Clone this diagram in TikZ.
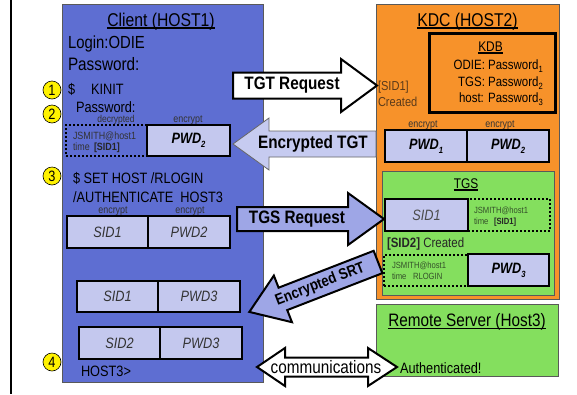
\documentclass[tikz,border=0pt]{standalone}
\usepackage{fontspec}
\setmainfont{Liberation Sans}[FakeStretch=0.85]
\newcommand{\fsz}[1]{\fontsize{#1}{#1}\selectfont}
\newcommand{\sbs}[1]{\raisebox{-0.28em}{\fsz{9}#1}}
\definecolor{clientblue}{HTML}{5E6ED2}
\definecolor{kdcorange}{HTML}{F7922A}
\definecolor{tgsgreen}{HTML}{84DF5E}
\definecolor{lightbox}{HTML}{C4C8EE}
\definecolor{arrowblue}{HTML}{9EA6E6}
\definecolor{arrowpale}{HTML}{C6CBF0}
\definecolor{browntext}{HTML}{5A3A1A}
\definecolor{greentext}{HTML}{34502A}
\tikzset{
  panel/.style={draw=black!65, line width=0.8pt, inner sep=0pt, outer sep=0pt, anchor=north west},
  cell/.style={draw=black, line width=2pt, fill=lightbox, inner sep=0pt, outer sep=0pt, anchor=north west, font=\fsz{15}\itshape, text=black!80},
  boldcell/.style={cell, font=\fsz{15}\bfseries\itshape, text=black},
  dotcell/.style={draw=black, line width=2.2pt, dash pattern=on 2pt off 2pt, inner sep=0pt, outer sep=0pt, anchor=north west},
  lbl/.style={inner sep=0pt, outer sep=0pt, anchor=base west},
  clbl/.style={inner sep=0pt, outer sep=0pt, anchor=base},
  numc/.style={circle, draw=black, line width=0.6pt, fill=yellow, minimum size=18pt, inner sep=0pt, font=\fsz{15}},
  uline/.style={line width=1.6pt},
  blockarrow/.style={draw=black, line width=2pt, line join=miter},
  arrowtxt/.style={inner sep=0pt, font=\fsz{18}\bfseries},
}
\begin{document}
\begin{tikzpicture}[x=1pt,y=-1pt]
\useasboundingbox (0,0) rectangle (577,394);
\fill[white] (0,0) rectangle (577,394);
% left rule
\draw[line width=2.5pt] (11,0) -- (11,394);

% ===== panels =====
\node[panel, fill=clientblue, minimum width=201pt, minimum height=378pt] (client) at (62,4) {};
\node[panel, fill=kdcorange, minimum width=183pt, minimum height=295pt] (kdc) at (376,4) {};
\node[draw=black, line width=2.5pt, inner sep=0pt, anchor=north west, minimum width=126pt, minimum height=79pt] (kdb) at (428,32) {};
\node[panel, fill=tgsgreen, minimum width=172pt, minimum height=124pt] (tgs) at (382,171) {};
\node[panel, fill=tgsgreen, minimum width=182pt, minimum height=72pt] (remote) at (376,304) {};

% ===== client texts =====
\node[clbl, font=\fsz{18.5}] (ctitle) at (161,26) {Client (HOST1)};
\draw[uline] ([yshift=-2pt]ctitle.base west) -- ([yshift=-2pt]ctitle.base east);
\node[lbl, font=\fsz{17.5}] (login) at (68,48) {Login:ODIE};
\node[lbl, font=\fsz{18}] (pass1) at (68,70) {Password:};
\node[lbl, font=\fsz{15}] (dollar1) at (68,94) {\$};
\node[lbl, font=\fsz{15}] (kinit) at (91,94) {KINIT};
\node[lbl, font=\fsz{15}] (pass2) at (76,112.5) {Password:};
\node[clbl, font=\fsz{10}, text=black!80] (decr) at (116,122) {decrypted};
\node[clbl, font=\fsz{10.5}, text=black!80] (encc1) at (188,122) {encrypt};
\node[dotcell, minimum width=81pt, minimum height=31pt] (jsmA) at (66,125) {};
\node[boldcell, minimum width=83pt, minimum height=31pt] (pwdTwoA) at (147,125) {PWD\sbs{2}};
\node[lbl, font=\fsz{10.5}, text=black!80] (jsmAa) at (73,139) {JSMITH@host1};
\node[lbl, font=\fsz{10.5}, text=black!80] (jsmAb) at (73,150) {time};
\node[lbl, font=\fsz{10.5}\bfseries, text=black!85] (jsmAc) at (94,150) {[SID1]};
\node[lbl, font=\fsz{15}] (sethost) at (73,183) {\$ SET HOST /RLOGIN};
\node[lbl, font=\fsz{15}] (auth) at (73,202) {/AUTHENTICATE\ \ HOST3};
\node[clbl, font=\fsz{10.5}, text=black!80] (encc2) at (113,213) {encrypt};
\node[clbl, font=\fsz{10.5}, text=black!80] (encc3) at (190,213) {encrypt};
\node[cell, minimum width=81pt, minimum height=32pt] (sidA) at (67,216) {SID1};
\node[cell, minimum width=82pt, minimum height=32pt] (pwdA) at (148,216) {PWD2};
\node[cell, minimum width=81pt, minimum height=31pt] (sidB) at (77,281) {SID1};
\node[cell, minimum width=82pt, minimum height=31pt] (pwdB) at (158,281) {PWD3};
\node[cell, minimum width=81pt, minimum height=32pt] (sidC) at (79,327) {SID2};
\node[cell, minimum width=82pt, minimum height=32pt] (pwdC) at (160,327) {PWD3};
\node[lbl, font=\fsz{15}] (host3) at (81,376) {HOST3>};
\node[numc] (n1) at (52,90) {1};
\node[numc] (n2) at (52,114) {2};
\node[numc] (n3) at (52,176) {3};
\node[numc] (n4) at (52,362) {4};

% ===== KDC texts =====
\node[clbl, font=\fsz{18.5}] (ktitle) at (467.5,26) {KDC (HOST2)};
\draw[uline] ([yshift=-2pt]ktitle.base west) -- ([yshift=-2pt]ktitle.base east);
\node[clbl, font=\fsz{14}] (kdbtitle) at (490.5,51) {KDB};
\draw[uline] ([yshift=-2pt]kdbtitle.base west) -- ([yshift=-2pt]kdbtitle.base east);
\node[inner sep=0pt, anchor=base east, font=\fsz{13.5}] (kdbA) at (543,69) {ODIE: Password\sbs{1}};
\node[inner sep=0pt, anchor=base east, font=\fsz{13.5}] (kdbB) at (543,86) {TGS: Password\sbs{2}};
\node[inner sep=0pt, anchor=base east, font=\fsz{13.5}] (kdbC) at (543,102) {host: Password\sbs{3}};
\node[lbl, font=\fsz{13}, text=browntext] (sidcr) at (378,90) {[SID1]};
\node[lbl, font=\fsz{13}, text=browntext] (created1) at (378,106) {Created};
\node[clbl, font=\fsz{10.5}, text=black!80] (enck1) at (423,127) {encrypt};
\node[clbl, font=\fsz{10.5}, text=black!80] (enck2) at (500,127) {encrypt};
\node[boldcell, minimum width=82pt, minimum height=32pt] (pwdOne) at (385,130) {PWD\sbs{1}};
\node[boldcell, minimum width=82pt, minimum height=32pt] (pwdTwoK) at (467,130) {PWD\sbs{2}};
\node[clbl, font=\fsz{14}] (tgstitle) at (466,188) {TGS};
\draw[uline] ([yshift=-2pt]tgstitle.base west) -- ([yshift=-2pt]tgstitle.base east);
\node[cell, minimum width=83pt, minimum height=32pt, text=black!70] (sidT) at (385,199) {SID1};
\node[dotcell, minimum width=82pt, minimum height=32pt] (jsmT) at (468,199) {};
\node[lbl, font=\fsz{9}, text=greentext] (jsmTa) at (474,213) {JSMITH@host1};
\node[lbl, font=\fsz{9}, text=greentext] (jsmTb) at (474,224) {time};
\node[lbl, font=\fsz{9}\bfseries, text=black!85] (jsmTc) at (494,224) {[SID1]};
\node[lbl, font=\fsz{13.5}, text=black!85] (sid2cr) at (387,247) {\textbf{[SID2]} Created};
\node[dotcell, minimum width=84pt, minimum height=31pt] (jsmU) at (384,255) {};
\node[lbl, font=\fsz{9}, text=greentext] (jsmUa) at (392,268) {JSMITH@host1};
\node[lbl, font=\fsz{9}, text=greentext] (jsmUb) at (392,279) {time};
\node[lbl, font=\fsz{9}, text=greentext] (jsmUc) at (413,279) {RLOGIN};
\node[boldcell, minimum width=81pt, minimum height=32pt] (pwdThree) at (468,254) {PWD\sbs{3}};

% ===== remote server =====
\node[clbl, font=\fsz{18}] (rtitle) at (467,326) {Remote Server (Host3)};
\draw[uline] ([yshift=-2.5pt]rtitle.base west) -- ([yshift=-2.5pt]rtitle.base east);
\node[lbl, font=\fsz{15}] (authd) at (400,373) {Authenticated!};

% ===== block arrows =====
\draw[blockarrow, fill=white] (233,72.5) -- (341,72.5) -- (341,59) -- (377,85.5) -- (341,112) -- (341,98.5) -- (233,98.5) -- cycle;
\node[arrowtxt] (tgtreq) at (292,85.5) {TGT Request};

\draw[draw=black!60, line width=0.8pt, fill=arrowpale] (376,131) -- (269,131) -- (269,118) -- (233,144) -- (269,170) -- (269,157) -- (376,157) -- cycle;
\node[arrowtxt] (enctgt) at (313,144) {Encrypted TGT};

\draw[blockarrow, fill=arrowblue] (237,207) -- (348,207) -- (348,193) -- (384,219) -- (348,245) -- (348,231) -- (237,231) -- cycle;
\node[arrowtxt] (tgsreq) at (297,219) {TGS Request};

\begin{scope}[shift={(378,262)}, rotate=21.2]
\draw[blockarrow, fill=arrowblue] (0,-12) -- (-102,-12) -- (-102,-25) -- (-138,0) -- (-102,25) -- (-102,12) -- (0,12) -- cycle;
\node[arrowtxt, font=\fsz{15.5}\bfseries, rotate=21.2] (encsrt) at (-62,0) {Encrypted SRT};
\end{scope}

\draw[blockarrow, fill=white] (257,367) -- (285,348) -- (285,357.5) -- (368,357.5) -- (368,348) -- (397,367) -- (368,386) -- (368,376.5) -- (285,376.5) -- (285,386) -- cycle;
\node[inner sep=0pt, font=\fsz{18}] (comm) at (326,367) {communications};
\end{tikzpicture}
\end{document}
